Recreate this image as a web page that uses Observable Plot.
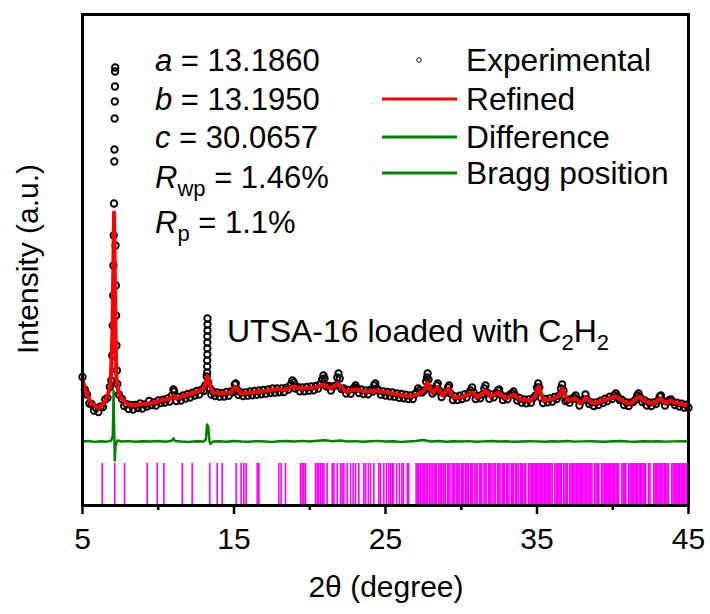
<!DOCTYPE html>
<html><head><meta charset="utf-8">
<script src="https://cdn.jsdelivr.net/npm/d3@7"></script>
<script src="https://cdn.jsdelivr.net/npm/@observablehq/plot@0.6"></script>
<style>body{margin:0;background:#fff}</style>
</head><body><div id="chart"></div>
<script>
const FONT = '"Liberation Sans", Arial, Helvetica, sans-serif';

// x ticks
const majorTicks = [5, 15, 25, 35, 45];
const minorTicks = [10, 20, 30, 40];
const xTitle = "2θ (degree)";
const yTitle = "Intensity (a.u.)";

// Refined profile (2θ, intensity a.u.)
const refTheta = [5.00,5.20,5.53,6.06,6.52,6.72,6.85,6.98,7.08,7.18,7.24,7.38,7.51,7.84,8.17,8.83,9.49,10.15,10.81,11.01,11.20,12.13,12.79,13.05,13.25,13.45,13.58,14.11,14.77,15.10,15.43,16.09,16.75,17.74,18.40,18.86,19.39,20.38,20.91,21.37,21.90,22.36,23.02,23.68,24.34,25.13,25.79,26.65,27.18,27.57,27.77,28.10,28.43,28.76,29.16,29.49,30.15,30.74,31.07,31.60,31.93,32.46,32.92,33.45,33.91,34.57,34.90,35.10,35.43,36.09,36.49,36.68,37.01,37.54,37.87,38.20,38.73,39.32,40.18,40.84,41.17,41.70,42.29,42.69,43.15,43.48,43.81,44.27,44.93,45.00];
const refIntensity = [1260,1150,1030,970,1050,1130,1200,1750,2930,1750,1250,1130,1080,1030,1000,1010,1020,1050,1070,1100,1070,1120,1150,1180,1290,1190,1130,1120,1130,1190,1120,1130,1140,1160,1160,1190,1170,1180,1210,1170,1220,1140,1160,1140,1150,1130,1110,1090,1120,1150,1230,1130,1180,1100,1170,1080,1090,1130,1080,1150,1090,1130,1070,1110,1060,1050,1090,1190,1050,1070,1100,1170,1050,1070,1020,1080,1020,1050,1090,1030,1020,1090,1030,1020,1070,1020,1050,1020,1000,995];

// Experimental points [2θ, intensity]
const experimental = [
[5.0,1285],[5.15,1160],[5.3,1110],[5.45,1020],[5.6,1015],[5.75,950],[5.9,975],[6.05,935],[6.2,990],[6.35,985],[6.5,1060],[6.65,1075],[6.8,1185],[6.9,1250],[6.96,1500],[7.0,1800],[7.02,2100],[7.04,2400],[7.06,2700],[7.08,3020],[7.1,3440],[7.11,3560],[7.12,3870],[7.13,4040],[7.14,4190],[7.15,4340],[7.16,4380],[7.18,2600],[7.2,2200],[7.22,1900],[7.24,1600],[7.27,1350],[7.3,1215],
[7.4,1110],[7.6,1065],[7.75,995],[7.9,1015],[8.05,965],[8.2,1005],[8.35,960],[8.5,1005],[8.65,975],[8.8,1020],[8.95,970],[9.1,1010],[9.25,990],[9.4,1045],[9.55,1005],[9.7,1030],[9.85,1000],[10.0,1050],[10.15,1025],[10.3,1058],[10.45,1030],[10.6,1070],[10.75,1040],[10.9,1100],[11.0,1160],[11.05,1140],[11.2,1045],[11.35,1085],[11.5,1050],[11.65,1100],[11.8,1070],[11.95,1115],[12.1,1080],[12.25,1128],[12.4,1100],[12.55,1145],[12.7,1110],[12.85,1158],[13.0,1145],[13.1,1200],[13.2,1290],
[13.23,1330],[13.23,1390],[13.23,1450],[13.24,1510],[13.24,1570],[13.24,1630],[13.24,1690],[13.25,1750],[13.25,1810],[13.25,1870],
[13.3,1230],[13.4,1175],[13.5,1110],[13.6,1140],[13.75,1095],[13.9,1130],[14.05,1088],[14.2,1125],[14.35,1090],[14.5,1135],[14.65,1098],[14.8,1140],[14.95,1135],[15.05,1210],[15.12,1220],[15.2,1160],[15.3,1105],[15.45,1130],[15.6,1095],[15.75,1132],[15.9,1098],[16.05,1140],[16.2,1102],[16.35,1145],[16.5,1108],[16.65,1150],[16.8,1112],[16.95,1155],[17.1,1118],[17.25,1160],[17.4,1125],[17.55,1170],[17.7,1128],[17.85,1170],[18.0,1132],[18.15,1172],[18.3,1135],[18.45,1178],[18.6,1160],[18.75,1210],[18.85,1250],[18.95,1230],[19.05,1170],[19.2,1185],[19.35,1142],[19.5,1180],[19.65,1142],[19.8,1185],[19.95,1148],[20.1,1190],[20.25,1152],[20.4,1195],[20.55,1170],[20.7,1215],[20.82,1260],[20.9,1300],[20.98,1270],[21.1,1190],[21.25,1195],[21.4,1150],[21.55,1190],[21.7,1200],[21.82,1280],[21.9,1320],[21.98,1270],[22.1,1165],[22.25,1170],[22.4,1120],[22.55,1155],[22.7,1118],[22.85,1165],[22.95,1180],[23.02,1200],[23.12,1170],[23.25,1125],[23.4,1160],[23.55,1115],[23.7,1150],[23.85,1112],[24.0,1155],[24.15,1140],[24.25,1200],[24.32,1220],[24.42,1170],[24.55,1150],[24.7,1108],[24.85,1142],[25.0,1100],[25.15,1135],[25.3,1092],[25.45,1130],[25.6,1088],[25.75,1120],[25.9,1078],[26.05,1115],[26.2,1072],[26.35,1108],[26.5,1065],[26.65,1100],[26.8,1065],[26.95,1115],[27.05,1130],[27.15,1170],[27.25,1150],[27.4,1130],[27.55,1150],[27.68,1240],[27.74,1280],[27.78,1320],[27.84,1260],[27.95,1170],[28.1,1120],[28.25,1140],[28.38,1200],[28.45,1220],[28.55,1150],[28.7,1085],[28.85,1125],[29.0,1130],[29.12,1180],[29.2,1200],[29.3,1120],[29.45,1055],[29.6,1092],[29.75,1055],[29.9,1098],[30.05,1065],[30.2,1110],[30.35,1080],[30.5,1125],[30.62,1150],[30.72,1180],[30.82,1130],[30.95,1065],[31.1,1095],[31.25,1072],[31.4,1110],[31.52,1170],[31.6,1200],[31.7,1130],[31.85,1068],[32.0,1110],[32.15,1082],[32.3,1125],[32.42,1150],[32.5,1160],[32.6,1110],[32.75,1055],[32.9,1088],[33.05,1062],[33.2,1108],[33.35,1120],[33.45,1140],[33.55,1100],[33.7,1050],[33.85,1075],[34.0,1028],[34.15,1062],[34.3,1022],[34.45,1062],[34.6,1028],[34.75,1075],[34.9,1100],[35.0,1180],[35.08,1220],[35.15,1180],[35.25,1080],[35.4,1025],[35.55,1065],[35.7,1032],[35.85,1072],[36.0,1038],[36.15,1085],[36.3,1065],[36.45,1100],[36.58,1170],[36.66,1210],[36.75,1150],[36.88,1045],[37.0,1058],[37.15,1028],[37.3,1068],[37.45,1080],[37.55,1100],[37.65,1060],[37.8,1000],[37.95,1048],[38.1,1060],[38.2,1110],[38.3,1060],[38.45,1015],[38.6,1032],[38.75,995],[38.9,1032],[39.05,1005],[39.2,1048],[39.35,1025],[39.5,1068],[39.65,1045],[39.8,1088],[39.95,1065],[40.1,1100],[40.2,1120],[40.32,1090],[40.45,1055],[40.6,1058],[40.75,1005],[40.9,1030],[41.05,995],[41.2,1032],[41.35,1035],[41.5,1060],[41.62,1100],[41.7,1120],[41.8,1085],[41.95,1035],[42.1,1052],[42.25,1000],[42.4,1030],[42.55,995],[42.7,1032],[42.85,1015],[43.0,1050],[43.1,1090],[43.18,1100],[43.3,1050],[43.45,1000],[43.6,1038],[43.75,1055],[43.85,1060],[43.95,1035],[44.1,1005],[44.25,1028],[44.4,990],[44.55,1018],[44.7,980],[44.85,1008],[45.0,978]
];

// Difference curve (offset) [2θ, intensity]
const difference = [
[5.0,640],[5.4,645],[5.8,636],[6.2,642],[6.6,638],[6.9,648],[7.0,700],[7.05,1150],[7.1,700],[7.13,450],[7.18,600],[7.3,650],[7.6,640],[8.0,644],[8.5,637],[9.0,642],[9.5,640],[10.0,645],[10.5,638],[10.9,648],[11.0,672],[11.1,645],[11.5,640],[12.0,636],[12.5,643],[13.0,640],[13.15,660],[13.22,810],[13.3,790],[13.38,640],[13.45,615],[13.6,640],[14.0,643],[14.5,637],[15.0,645],[15.5,640],[16.0,638],[16.5,644],[17.0,640],[17.5,636],[18.0,642],[18.5,645],[19.0,640],[19.5,646],[20.0,640],[20.5,648],[21.0,652],[21.5,642],[22.0,650],[22.5,640],[23.0,644],[23.5,638],[24.0,643],[24.5,646],[25.0,640],[25.5,642],[26.0,636],[26.5,640],[27.0,645],[27.5,655],[28.0,640],[28.5,645],[29.0,638],[29.5,642],[30.0,640],[30.5,644],[31.0,638],[31.5,641],[32.0,645],[32.5,640],[33.0,642],[33.5,637],[34.0,640],[34.5,643],[35.0,641],[35.5,638],[36.0,643],[36.5,640],[37.0,645],[37.5,639],[38.0,641],[38.5,644],[39.0,640],[39.5,637],[40.0,642],[40.5,645],[41.0,640],[41.5,638],[42.0,643],[42.5,640],[43.0,642],[43.5,639],[44.0,641],[44.5,643],[45.0,640]
];

// Bragg positions (2θ)
const braggTheta = [6.30,7.13,7.77,9.27,9.93,10.37,11.58,12.24,13.40,13.89,14.22,15.14,15.47,15.65,15.80,16.53,16.64,17.96,18.11,18.40,19.39,19.50,19.61,19.72,20.38,20.49,20.60,20.71,20.82,20.93,21.15,21.48,21.59,21.81,22.03,22.14,22.25,22.47,22.69,22.87,23.02,23.24,23.57,23.68,23.86,24.01,24.23,24.56,24.67,24.89,25.07,25.22,25.33,
25.45,25.52,25.74,25.92,26.08,26.18,26.44,26.52,27.02,27.1,27.19,27.3,27.41,27.5,27.58,27.7,27.78,27.9,28.0,28.08,28.2,28.28,28.37,28.5,28.6,28.68,28.8,28.87,28.95,29.1,29.17,29.26,29.4,29.48,29.57,29.7,29.78,29.86,30.0,30.1,30.17,30.3,30.38,30.46,30.6,30.66,30.75,30.9,30.97,31.05,31.2,31.27,31.35,31.5,31.56,31.64,31.8,31.88,31.96,32.1,32.16,32.25,32.4,32.48,32.56,32.7,32.78,32.85,33.0,33.07,33.15,33.3,33.37,33.46,33.6,33.66,33.75,33.9,33.96,34.05,34.18,34.26,
34.45,34.53,34.62,34.7,34.79,34.88,34.96,35.05,35.14,35.22,35.31,35.4,35.48,35.57,35.66,35.74,35.83,35.92,36.0,36.18,36.27,36.35,36.44,36.53,36.61,36.76,36.85,36.94,37.0,37.16,37.25,37.33,37.42,37.51,37.59,37.68,37.77,37.85,37.94,38.03,38.11,38.2,38.29,38.37,38.46,38.55,38.63,38.81,38.9,38.98,39.07,39.26,39.35,39.44,39.52,39.61,39.7,39.78,39.87,39.96,40.04,40.13,40.22,40.3,40.39,40.6,40.69,40.78,40.86,41.05,41.13,41.22,41.31,41.39,41.48,41.57,41.65,41.74,41.83,41.91,42.0,42.09,42.17,42.37,42.46,42.71,42.8,42.89,42.97,43.06,43.15,43.23,43.32,43.41,43.49,43.58,43.67,43.9,43.98,44.07,44.16,44.24,44.33,44.42,44.5,44.59,44.68,44.76,44.85,44.94];
const braggBottom = 0, braggTop = 420;

// Text content
const legendLabels = ["Experimental", "Refined", "Difference", "Bragg position"];
const legendColors = ["black", "#ff0000", "#008000", "#008000"];
const paramVars = ["a", "b", "c", "R", "R"];
const paramSubs = ["", "", "", "wp", "p"];
const paramVals = [" = 13.1860", " = 13.1950", " = 30.0657", " = 1.46%", " = 1.1%"];
const sampleLabel = ["UTSA-16 loaded with C", "2", "H", "2"];

const refined = refTheta.map((t, i) => ({t, v: refIntensity[i]}));
const expData = experimental.map(([t, v]) => ({t, v}));
const diffData = difference.map(([t, v]) => ({t, v}));

const chart = Plot.plot({
  width: 710, height: 614,
  marginLeft: 82, marginRight: 22, marginTop: 14, marginBottom: 109,
  x: {domain: [5, 45]},
  y: {domain: [0, 4910], axis: null},
  style: {fontFamily: FONT, fontSize: "30px", color: "black", background: "white", overflow: "visible"},
  marks: [
    Plot.ruleX(braggTheta, {x: d => d, y1: () => braggBottom, y2: () => braggTop, stroke: "#ff00ff", strokeWidth: 1.6}),
    Plot.line(diffData, {x: "t", y: "v", stroke: "#008000", strokeWidth: 2.4}),
    Plot.dot(expData, {x: "t", y: "v", r: 3.2, stroke: "black", strokeWidth: 1.9, fill: "none"}),
    Plot.line(refined, {x: "t", y: "v", stroke: "#ff0000", strokeWidth: 4}),
    Plot.frame({stroke: "black", strokeWidth: 3}),
    Plot.axisX({ticks: majorTicks, tickSize: 9, tickPadding: 13, strokeWidth: 2.5, fontSize: 30, label: null}),
    Plot.axisX({ticks: minorTicks, tickSize: 5, strokeWidth: 2.5, tickFormat: () => "", label: null})
  ]
});
document.getElementById("chart").appendChild(chart);

const svg = d3.select(chart);
const g = svg.append("g").attr("font-family", FONT).attr("font-size", 30).attr("fill", "black").attr("text-anchor", "start");

// axis titles
g.append("text").attr("x", 386).attr("y", 597).attr("text-anchor", "middle").text(xTitle);
g.append("text").attr("transform", "translate(38,259) rotate(-90)").attr("text-anchor", "middle").text(yTitle);

// refinement parameters
const paramY = [71, 110, 148, 188, 233];
paramVars.forEach((v, i) => {
  const t = g.append("text").attr("x", 155).attr("y", paramY[i]).attr("font-size", 31);
  t.append("tspan").attr("font-style", "italic").text(v);
  if (paramSubs[i]) {
    t.append("tspan").attr("font-size", 22).attr("dy", 8).text(paramSubs[i]);
    t.append("tspan").attr("dy", -8).text(paramVals[i]);
  } else {
    t.append("tspan").text(paramVals[i]);
  }
});

// legend
const legY = [71, 110, 148, 184];
legendLabels.forEach((lab, i) => {
  const cy = legY[i] - 11;
  if (i === 0) {
    g.append("circle").attr("cx", 419).attr("cy", cy).attr("r", 2.3).attr("fill", "none").attr("stroke", "black").attr("stroke-width", 0.9);
  } else {
    g.append("line").attr("x1", 382).attr("x2", 457).attr("y1", cy).attr("y2", cy).attr("stroke", legendColors[i]).attr("stroke-width", 3);
  }
  g.append("text").attr("x", 466).attr("y", legY[i]).attr("font-size", 31.7).text(lab);
});

// sample label
const st = g.append("text").attr("x", 227).attr("y", 342).attr("font-size", 32);
st.append("tspan").text(sampleLabel[0]);
st.append("tspan").attr("font-size", 22).attr("dy", 8).text(sampleLabel[1]);
st.append("tspan").attr("dy", -8).text(sampleLabel[2]);
st.append("tspan").attr("font-size", 22).attr("dy", 8).text(sampleLabel[3]);
</script></body></html>
